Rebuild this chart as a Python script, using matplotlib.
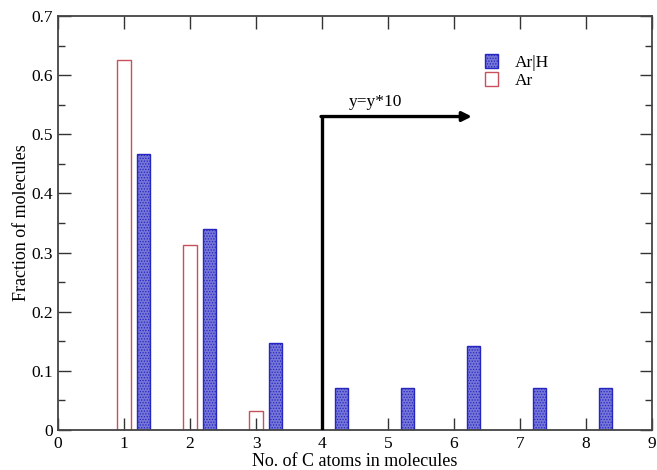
import matplotlib.pyplot as plt
from matplotlib.ticker import MultipleLocator

plt.rcParams['font.family'] = ['Liberation Serif', 'DejaVu Serif']
plt.rcParams['hatch.linewidth'] = 0.6

# data
carbon_ar = [1, 2, 3]
frac_ar = [0.625, 0.312, 0.032]
carbon_arh = [1, 2, 3, 4, 5, 6, 7, 8]
frac_arh = [0.467, 0.340, 0.147, 0.071, 0.071, 0.142, 0.071, 0.071]  # from 4 on: y*10

x_ticks = [0, 1, 2, 3, 4, 5, 6, 7, 8, 9]
y_ticks = [0, 0.1, 0.2, 0.3, 0.4, 0.5, 0.6, 0.7]
y_tick_labels = ['0', '0.1', '0.2', '0.3', '0.4', '0.5', '0.6', '0.7']

bar_w = 0.2

fig = plt.figure(figsize=(6.57, 4.70), dpi=100)
ax = fig.add_axes([0.0883, 0.0851, 0.9041, 0.8809])

ax.bar([c + 0.3 for c in carbon_arh], frac_arh, width=bar_w,
       facecolor='#7676d8', edgecolor='#2626c0', hatch='......',
       linewidth=1.0, label='Ar|H')
ax.bar(carbon_ar, frac_ar, width=bar_w, facecolor='white',
       edgecolor='#c8505a', linewidth=1.0, label='Ar')

# scaling marker
ax.plot([4, 4], [0, 0.53], color='black', lw=2.4, solid_capstyle='butt', zorder=3)
ax.annotate('', xy=(6.27, 0.53), xytext=(3.985, 0.53),
            arrowprops=dict(arrowstyle='-|>', color='black', lw=2.4,
                            mutation_scale=14, shrinkA=0, shrinkB=0), zorder=3)
ax.text(4.4, 0.541, 'y=y*10', fontsize=12.5, ha='left', va='bottom')

ax.set_xticks(x_ticks, [str(v) for v in x_ticks])
ax.set_yticks(y_ticks, y_tick_labels)
ax.yaxis.set_minor_locator(MultipleLocator(0.05))
ax.set_xlim(0, 9)
ax.set_ylim(0, 0.7)
ax.tick_params(which='both', direction='in', top=True, right=True,
               labelsize=12.5, color='#333333', width=1.0)
ax.tick_params(axis='x', pad=4)
ax.tick_params(which='major', length=9)
ax.tick_params(which='minor', length=5)
for s in ax.spines.values():
    s.set_linewidth(1.3)
    s.set_color('#444444')

ax.set_xlabel('No. of C atoms in molecules', fontsize=13, labelpad=1)
ax.set_ylabel('Fraction of molecules', fontsize=13, labelpad=1)

handles, labels = ax.get_legend_handles_labels()
ax.legend(handles, labels, loc='upper left', bbox_to_anchor=(0.707, 0.925),
          frameon=False, fontsize=12.5, handlelength=0.75, handleheight=0.9,
          handletextpad=1.0, labelspacing=0.05, borderaxespad=0)

fig.savefig('out.png', dpi=100)
